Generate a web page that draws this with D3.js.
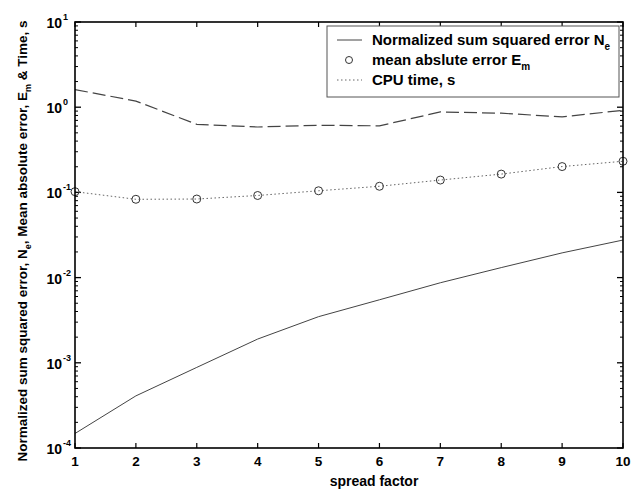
<!DOCTYPE html>
<html>
<head>
<meta charset="utf-8">
<script src="https://cdn.jsdelivr.net/npm/d3@7"></script>
<style>
  html, body { margin: 0; padding: 0; background: #fff; }
  svg { display: block; font-family: "Liberation Sans", Arial, sans-serif; }
</style>
</head>
<body>
<svg id="chart" width="641" height="490"></svg>
<script>
// ---- data ----
const spread = [1, 2, 3, 4, 5, 6, 7, 8, 9, 10];
const nse = [1.61, 1.18, 0.63, 0.586, 0.614, 0.604, 0.88, 0.85, 0.77, 0.92];       // Normalized sum squared error (dashed)
const mae = [0.102, 0.083, 0.0836, 0.092, 0.1045, 0.118, 0.1396, 0.164, 0.201, 0.232]; // mean absolute error (circles)
const cpu = [0.102, 0.083, 0.0836, 0.092, 0.1045, 0.118, 0.1396, 0.164, 0.201, 0.232]; // CPU time (dotted)
const solid = [1.48e-4, 4.09e-4, 8.83e-4, 1.90e-3, 3.48e-3, 5.49e-3, 8.7e-3, 0.0131, 0.0195, 0.0276]; // solid curve
const xTicks = [1, 2, 3, 4, 5, 6, 7, 8, 9, 10];
const yExponents = [1, 0, -1, -2, -3, -4];

// ---- layout ----
const L = 75, R = 623, T = 22, B = 448;
const svg = d3.select("#chart");
const x = d3.scaleLinear().domain([1, 10]).range([L, R]);
const y = d3.scaleLog().domain([1e-4, 10]).range([B, T]);

// ---- ticks ----
const g = svg.append("g");
xTicks.forEach(v => {
  g.append("line").attr("x1", x(v)).attr("x2", x(v)).attr("y1", B).attr("y2", B - 5).attr("stroke", "#000").attr("stroke-width", 1.2);
  g.append("line").attr("x1", x(v)).attr("x2", x(v)).attr("y1", T).attr("y2", T + 5).attr("stroke", "#000").attr("stroke-width", 1.2);
});
const minor = [];
for (let e = -4; e < 1; e++) for (let m = 2; m <= 9; m++) minor.push(m * Math.pow(10, e));
minor.forEach(v => {
  g.append("line").attr("x1", L).attr("x2", L + 3).attr("y1", y(v)).attr("y2", y(v)).attr("stroke", "#000").attr("stroke-width", 1);
  g.append("line").attr("x1", R).attr("x2", R - 3).attr("y1", y(v)).attr("y2", y(v)).attr("stroke", "#000").attr("stroke-width", 1);
});
yExponents.forEach(e => {
  const v = Math.pow(10, e);
  g.append("line").attr("x1", L).attr("x2", L + 6).attr("y1", y(v)).attr("y2", y(v)).attr("stroke", "#000").attr("stroke-width", 1.3);
  g.append("line").attr("x1", R).attr("x2", R - 6).attr("y1", y(v)).attr("y2", y(v)).attr("stroke", "#000").attr("stroke-width", 1.3);
});

// ---- tick labels ----
xTicks.forEach(v => {
  g.append("text").attr("x", x(v)).attr("y", 466).attr("text-anchor", "middle")
    .attr("font-size", 13.5).attr("font-weight", "bold").text(v);
});
yExponents.forEach(e => {
  g.append("text").attr("x", 62).attr("y", y(Math.pow(10, e)) + 6).attr("text-anchor", "end")
    .attr("font-size", 14).attr("font-weight", "bold").text("10");
  g.append("text").attr("x", 63).attr("y", y(Math.pow(10, e)) - 2).attr("text-anchor", "start")
    .attr("font-size", 9).attr("font-weight", "bold").text(String(e));
});

// ---- series ----
const line = arr => d3.line().x((d, i) => x(spread[i])).y(d => y(d))(arr);
svg.append("path").attr("d", line(solid)).attr("fill", "none").attr("stroke", "#444").attr("stroke-width", 1);
svg.append("path").attr("d", line(nse)).attr("fill", "none").attr("stroke", "#444").attr("stroke-width", 1.2).attr("stroke-dasharray", "13,5");
svg.append("path").attr("d", line(cpu)).attr("fill", "none").attr("stroke", "#666").attr("stroke-width", 1).attr("stroke-dasharray", "1.5,2.5");
svg.selectAll("circle.mae").data(mae).enter().append("circle").attr("class", "mae")
  .attr("cx", (d, i) => x(spread[i])).attr("cy", d => y(d)).attr("r", 4)
  .attr("fill", "none").attr("stroke", "#333").attr("stroke-width", 1);

// ---- frame ----
svg.append("rect").attr("x", L).attr("y", T).attr("width", R - L).attr("height", B - T)
  .attr("fill", "none").attr("stroke", "#000").attr("stroke-width", 1.6);

// ---- legend ----
const lg = svg.append("g");
lg.append("rect").attr("x", 327).attr("y", 26).attr("width", 292).attr("height", 71)
  .attr("fill", "#fff").attr("stroke", "#555").attr("stroke-width", 1);
const lx0 = 337, lx1 = 362, tx = 372;
lg.append("line").attr("x1", lx0).attr("x2", lx1).attr("y1", 40).attr("y2", 40).attr("stroke", "#444").attr("stroke-width", 1);
lg.append("circle").attr("cx", 349).attr("cy", 60).attr("r", 3.5).attr("fill", "none").attr("stroke", "#333").attr("stroke-width", 1);
lg.append("line").attr("x1", lx0).attr("x2", lx1).attr("y1", 80).attr("y2", 80).attr("stroke", "#666").attr("stroke-width", 1).attr("stroke-dasharray", "1.5,2.5");
const t1 = lg.append("text").attr("x", tx).attr("y", 45).attr("font-size", 15).attr("font-weight", "bold");
t1.append("tspan").text("Normalized sum squared error N");
t1.append("tspan").attr("font-size", 10).attr("dy", 5).text("e");
const t2 = lg.append("text").attr("x", tx).attr("y", 65).attr("font-size", 15).attr("font-weight", "bold");
t2.append("tspan").text("mean abslute error  E");
t2.append("tspan").attr("font-size", 10).attr("dy", 5).text("m");
lg.append("text").attr("x", tx).attr("y", 85).attr("font-size", 15).attr("font-weight", "bold").text("CPU time, s");

// ---- axis titles ----
svg.append("text").attr("x", 374).attr("y", 486).attr("text-anchor", "middle")
  .attr("font-size", 14).attr("font-weight", "bold").text("spread factor");
const yt = svg.append("text").attr("transform", "translate(27,241) rotate(-90)").attr("text-anchor", "middle")
  .attr("font-size", 13.5).attr("font-weight", "bold");
yt.append("tspan").text("Normalized sum squared error, N");
yt.append("tspan").attr("font-size", 9).attr("dy", 4).text("e");
yt.append("tspan").attr("dy", -4).text(", Mean absolute error, E");
yt.append("tspan").attr("font-size", 9).attr("dy", 4).text("m");
yt.append("tspan").attr("dy", -4).text(" & Time, s");
</script>
</body>
</html>
